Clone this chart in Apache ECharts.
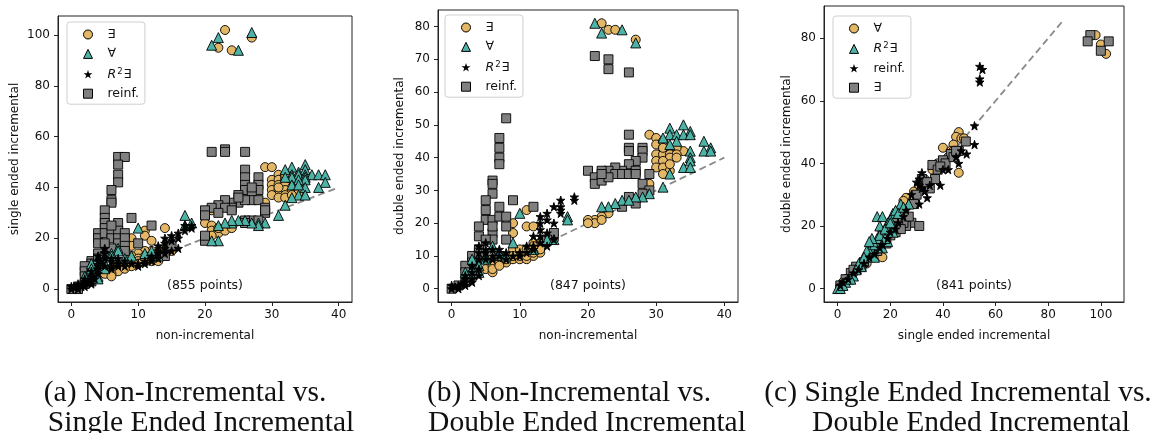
<!DOCTYPE html>
<html><head><meta charset="utf-8">
<script src="https://cdn.jsdelivr.net/npm/echarts@6/dist/echarts.min.js"></script>
<style>html,body{margin:0;padding:0;background:#fff}#c{width:1152px;height:433px}</style>
</head><body><div id="c"></div>
<script>
// ---------------- DATA ----------------
// Panel (a): non-incremental (x) vs single ended incremental (y)
const aExists = [[23,102],[22,95],[24,94],[27,99],
 [29,48],[30,48],[31,45],[30,43],[31,43],[32,43],[33,42],[34,42],[32,44],[30,41],[31,41],[32,41],[33,40],[34,40],[30,39],[31,39],[32,39],[33,38],[31,37],[32,37],[34,38],[30,37],[31,36],[32,36],[33,37],[29,34],[32,45],[31,40],
 [21,31],[20,28],[20,26],[21,25],[21,23],[22,22],[23,23],[21,21],[22,24],[24,24],
 [14,24],[11,23],[11,21],[9,20],[12,19],[9,17],[14,16],[15,15],[13,15],[12,15],[11,15],[10,14],[11,13],[9,13],[10,12],[11,12],[12,12],[13,13],[10,11],[11,11],[12,11],[9,10],[8,10],[8,9],[9,9],[7,9],[7,8],[6,7],[7,7],[6,6],[5,6],[6,5],[8,8],[13,11],[14,14],[10,10]];
const aForall = [[21,96],[22,99],[25,94],[27,101],
 [33,48],[35,49],[34,46],[35,47],[32,47],[33,45],[34,45],[35,45],[36,45],[37,45],[38,45],[33,44],[35,44],[32,44],[35,43],[34,43],[38,42],[37,40],[35,40],[33,41],[34,41],[34,37],[35,37],[33,36],[32,33],[31,29],
 [29,26],[28,26],[28,25],[27,26],[26,27],[25,27],[24,26],[24,27],[23,26],[22,25],[22,19],[21,19],[17,29],[17,25],[18,26],
 [10,24],[9,13],[7,16],[7,15],[6,14],[5,10],[4,5],[4,4],[3,10],[3,8],[2,5],[6,13],[8,12],[11,14],[12,15],[13,13],[4,12],[5,8]];
const aR2 = [[0,0],[0,1],[0.5,0.5],[1,1],[1,0],[1.5,1],[2,2],[2,1],[2,3],[2.5,2.5],[3,3],[3,2],[3,5],[3.5,4],[4,6],[4,9],[4,11],[4,13],[4.5,10],[5,12],[5,14],[5,16],[5,9],[6,11],[6,12],[6,9],[7,10],[7,12],[8,9],[8,11],[9,10],[10,10],[10,9],[11,11],[11,10],[12,11],[12,12],[12,13],[13,14],[13,15],[13,17],[13,12],[14,14],[14,16],[14,18],[14,20],[15,15],[15,19],[15,21],[16,22],[16,20],[17,23],[17,25],[18,24],[18,25],[16,16],[3,7],[4,8],[2,4],[1,2],[6,8],[7,9]];
const aReinf = [[7,52],[8,52],[7,49],[7,45],[7,42],[6,39],[6,35],[6,34],[5,31],[5,28],[5,26],[5,24],[4,22],[4,20],[4,18],[5,22],[6,22],[6,20],[7,26],[7,23],[7,20],[7,18],[8,22],[8,20],[8,17],[9,28],[12,25],[6,16],[8,15],[15,17],[14,13],[10,18],[3,11],[3,10],[2,9],[2,7],[2,5],[3,6],[4,14],[4,12],[5,13],[1,1],[1,0],[0,0],[2,2],[3,3],[6,25],[5,18],
 [21,54],[23,55],[23,54],[26,54],[26,47],[26,44],[26,41],[26,39],[28,44],[28,41],[28,39],[27,38],[27,35],[25,37],[25,34],[24,34],[23,35],[22,33],[21,32],[20,31],[20,29],[24,32],[23,32],[26,35],[28,35],[29,30],[29,32],[27,27],[26,27],[28,27],[26,26],[20,19],[20,21],[24,31],[22,30],[25,36],[27,40],[29,31]];

// Panel (b): non-incremental (x) vs double ended incremental (y)
const bExists = [[22,81],[23,79],[24,79],[27,76],
 [29,47],[30,46],[30,44],[31,43],[32,42],[33,42],[34,42],[33,43],[31,45],[30,41],[31,41],[32,41],[33,41],[32,40],[30,39],[31,39],[33,40],[30,37],[31,37],[32,36],[31,35],[32,38],[29,32],[31,43],
 [23,23],[22,22],[21,21],[20,21],[21,20],[20,20],[22,21],
 [11,24],[11,19],[12,19],[9,20],[9,17],[9,12],[10,12],[11,12],[5,6],[6,5],[6,7],[7,8],[8,8],[9,9],[10,9],[11,9],[12,10],[13,11],[12,14],[13,14],[14,15],[15,15],[13,12],[14,14],[10,10],[11,10],[12,11],[8,9],[6,6],[7,7],[9,10],[12,13]];
const bForall = [[21,81],[22,78],[25,79],[27,75],
 [32,49],[34,50],[35,48],[32,47],[33,47],[31,46],[34,47],[33,45],[32,44],[35,47],[35,42],[37,45],[38,43],[37,42],[38,42],[35,40],[35,39],[34,37],[35,37],[32,35],[31,31],[29,29],[28,28],[27,28],[25,27],[24,26],[23,25],[22,25],[26,27],
 [17,22],[17,21],[10,23],[9,14],[7,11],[6,13],[5,10],[4,7],[4,5],[3,6],[3,9],[2,5],[14,15],[12,12],[8,10],[5,9],[15,15]];
const bR2 = [[0,0],[0,1],[1,1],[1,0],[0.5,0.5],[1.5,1.5],[2,2],[2,1],[2,3],[3,3],[3,2],[3,5],[4,4],[4,6],[4,9],[4,11],[4,13],[5,11],[5,14],[5,12],[5,9],[6,10],[6,12],[6,9],[7,10],[7,12],[8,9],[8,11],[9,10],[10,10],[10,11],[11,11],[12,12],[12,13],[13,14],[13,16],[13,18],[13,20],[13,22],[14,21],[14,23],[14,17],[15,20],[15,25],[16,23],[16,24],[16,25],[16,27],[18,27],[18,28],[14,13],[15,15],[11,13],[12,16],[3,7],[2,4]];
const bReinf = [[21,71],[23,70],[23,67],[26,66],
 [8,52],[7,46],[7,43],[7,40],[7,38],[6,33],[6,32],[6,29],[5,27],[5,24],[5,21],[6,21],[4,19],[4,16],[6,17],[6,19],[7,25],[7,22],[8,19],[8,15],[9,27],[12,25],[6,15],[5,15],[4,12],[3,10],[3,8],[2,7],[2,5],[1,1],[0,0],[2,2],[3,4],[7,10],[15,17],[14,15],[8,22],[4,11],
 [26,47],[26,43],[26,42],[28,43],[28,42],[28,40],[27,39],[26,38],[25,36],[24,37],[23,36],[22,36],[20,36],[21,34],[21,32],[22,33],[24,35],[25,35],[26,35],[27,36],[29,35],[28,32],[26,28],[27,26],[25,25],[29,30],[28,29],[23,34],[22,35],[27,35]];

// Panel (c): single ended incremental (x) vs double ended incremental (y)
const cCircle = [[98,81],[100,78],[102,75],
 [46,50],[45,48.5],[44,46],[40,45],[46,37],[47,48],[43,44],[33,35],[29,31],[26,29],[27,27],[25,28],[28,27],[24,25],[22,24],[21,22],[19,19],[18,17],[17,16],[16,15],[15,13],[14,12],[13,11],[12,10],[11,8],[17,10],[10,9],[8,7],[6,5],[5,4],[3,3],[2,2],[1,1],[36,38],[38,40],[42,42],[44,44],[48,48],[31,33],[23,24],[20,21]];
const cTriangle = [[15,23],[17,23],[21,24],[24,27],[27,27],[16,20],[19,21],[21,18],[19,15],[15,16],[13,13],[11,11],[10,9],[8,8],[6,4],[4,3],[3,2],[1,1],[0,0],[1,0],[2,1],[5,3],[7,6],[9,7],[12,12],[14,14],[16,17],[18,19],[20,22],[22,25],[23,24],[14,10],[17,13],[18,16],[13,16],[11,12],[10,10],[12,15],[20,21],[25,26]];
const cStar = [[54,71],[55,70],[54,67],[54,66],[52,52],[52,46],[49,43],[46,40],[42,38],[39,33],[34,29],[31,27],[32,37],[31,35],[31,33],[30,34],[32,32],[28,30],[26,25],[25,23],[23,21],[22,19],[20,18],[19,16],[17,14],[16,13],[14,11],[12,10],[10,8],[8,6],[6,5],[4,3],[2,2],[1,1],[45,42],[47,44],[40,38],[35,33],[33,31]];
const cSquare = [[96,81],[95,79],[100,76],[103,79],
 [48.7,47],[46,44],[43,43],[40,41],[36,39.5],[37,35],[35,32],[32,35],[28,21],[31,20],[26,20],[25,21],[23,22],[22,18],[18.5,14.4],[15,12],[12,10],[10,8.5],[7,7],[5,5],[3,3],[1,1],[38,38],[41,40],[44,42],[39,39],[30,30],[24,24],[20,20],[17,17],[14,14],[16,13],[20,17],[13,11],[9,7],[6,6],[27,23],[24,19],[45,44],[34,34],[29,27],[21,21]];

// diagonal reference lines
const aDiag = [[0,0],[40,40]];
const bDiag = [[0,0],[40,40]];
const cDiag = [[0,0],[86,86]];

// tick labels
const aXTicks = [0,10,20,30,40], aYTicks = [0,20,40,60,80,100];
const bXTicks = [0,10,20,30,40], bYTicks = [0,10,20,30,40,50,60,70,80];
const cXTicks = [0,20,40,60,80,100], cYTicks = [0,20,40,60,80];

// texts
const pointCounts = ['(855 points)','(847 points)','(841 points)'];
const xNames = ['non-incremental','non-incremental','single ended incremental'];
const yNames = ['single ended incremental','double ended incremental','double ended incremental'];
const captions = [['(a) Non-Incremental vs.','Single Ended Incremental'],
                  ['(b) Non-Incremental vs.','Double Ended Incremental'],
                  ['(c) Single Ended Incremental vs.','Double Ended Incremental']];
// legend labels per panel (circle, triangle, star, square)
const legendLabelsAB = ['∃','∀','R2∃','reinf.'];
const legendLabelsC = ['∀','R2∃','reinf.','∃'];

// ---------------- CHART ----------------
const FONT = 'DejaVu Sans';
const STAR = 'path://M50,0 L61.8,35.5 L99,35.5 L69,57.5 L80.5,93 L50,71 L19.5,93 L31,57.5 L1,35.5 L38.2,35.5 Z';
const STYLE = {
  circle:  {symbol:'circle',   symbolSize:9,  color:'#E3B766'},
  tri:     {symbol:'triangle', symbolSize:10, color:'#4DB3A7'},
  star:    {symbol:STAR,       symbolSize:8.5, color:'#000000'},
  square:  {symbol:'rect',     symbolSize:9,  color:'#808080'}
};

const panels = [
  {grid:{left:58,top:16,width:294,height:286}, x:[-2,42], y:[-5.1,107.5], xt:aXTicks, yt:aYTicks,
   sets:[['circle',aExists],['tri',aForall],['star',aR2],['square',aReinf]], labels:legendLabelsAB, diag:aDiag,
   legend:{left:67,top:22}, yGap:37},
  {grid:{left:438,top:10,width:300,height:292}, x:[-2,42], y:[-4.05,85.05], xt:bXTicks, yt:bYTicks,
   sets:[['circle',bExists],['tri',bForall],['star',bR2],['square',bReinf]], labels:legendLabelsAB, diag:bDiag,
   legend:{left:445,top:15}, yGap:32},
  {grid:{left:824,top:6,width:300,height:296}, x:[-5.2,108.8], y:[-4.3,90.3], xt:cXTicks, yt:cYTicks,
   sets:[['circle',cCircle],['tri',cTriangle],['star',cStar],['square',cSquare]], labels:legendLabelsC, diag:cDiag,
   legend:{left:833,top:16}, yGap:31}
];

const grids=[], xAxes=[], yAxes=[], series=[], legends=[], graphics=[];
const labelMap = {};
const drawOrder = ['circle','square','tri','star'];

function fmtLabel(t){
  if (t === 'R2∃') return '{g|}{it|R}{sup|2}{n|∃}';
  return '{g|}{n|' + t + '}';
}

panels.forEach((p,i)=>{
  grids.push(Object.assign({show:true, borderColor:'#222', borderWidth:1, backgroundColor:'transparent'}, p.grid));
  const axisCommon = (ticks)=>({
    type:'value', gridIndex:i, splitLine:{show:false},
    axisLine:{show:true, onZero:false, lineStyle:{color:'#222', width:1}},
    axisTick:{show:true, length:4, customValues:ticks, lineStyle:{color:'#222'}},
    axisLabel:{customValues:ticks, fontFamily:FONT, fontSize:12, color:'#111'},
    nameLocation:'middle', nameTextStyle:{fontFamily:FONT, fontSize:12, color:'#111'}
  });
  const xa = axisCommon(p.xt); xa.min=p.x[0]; xa.max=p.x[1]; xa.name=xNames[i]; xa.nameGap=28; xa.axisLabel.margin=7;
  const ya = axisCommon(p.yt); ya.min=p.y[0]; ya.max=p.y[1]; ya.name=yNames[i]; ya.nameGap=p.yGap; ya.axisLabel.margin=8;
  xAxes.push(xa); yAxes.push(ya);

  series.push({type:'line', xAxisIndex:i, yAxisIndex:i, data:p.diag, symbol:'none', silent:true, z:1,
    lineStyle:{color:'#8a8a8a', width:1.8, type:[7,4]}, animation:false});

  const names = [];
  p.sets.forEach(([kind,data],k)=>{
    const nm = 'p'+i+'_'+k;
    labelMap[nm] = p.labels[k];
    names.push(kind==='star' ? {name:nm, icon:STAR, itemStyle:{borderWidth:0}}
                             : {name:nm, itemStyle:{borderColor:'#000', borderWidth:1}});
  });
  drawOrder.forEach(kind=>{
    const k = p.sets.findIndex(s=>s[0]===kind);
    const st = STYLE[kind];
    series.push({type:'scatter', name:'p'+i+'_'+k, xAxisIndex:i, yAxisIndex:i, data:p.sets[k][1],
      symbol:st.symbol, symbolSize:st.symbolSize, z:2,
      itemStyle:{color:st.color, borderColor:'#000', borderWidth:0.9, opacity:1},
      emphasis:{disabled:true}, animation:false});
  });
  legends.push({
    data:names, orient:'vertical', left:p.legend.left, top:p.legend.top,
    padding:[6,6,4,16], itemGap:6.4, itemWidth:9, itemHeight:9,
    backgroundColor:'#fff', borderColor:'#cfcfcf', borderWidth:1, borderRadius:3,
    selectedMode:false,
    formatter:(n)=>fmtLabel(labelMap[n]),
    textStyle:{fontFamily:FONT, fontSize:12.5, color:'#111',
      rich:{ g:{width:10}, n:{fontSize:12.5, lineHeight:13, fontFamily:FONT},
             it:{fontStyle:'italic', fontSize:12.5, lineHeight:13, fontFamily:FONT},
             sup:{fontSize:8.5, padding:[0,1,6,1], fontFamily:FONT} }}
  });
  graphics.push({type:'text', x:p.grid.left+p.grid.width/2, y:p.grid.top+p.grid.height-16, silent:true,
    style:{text:pointCounts[i], font:'12.5px "DejaVu Sans"', fill:'#111', align:'center', verticalAlign:'middle'}});
});

const capCenters = [[185,201],[569,587],[958,971]];
captions.forEach((c,i)=>{
  graphics.push({type:'text', x:capCenters[i][0], y:393, silent:true,
    style:{text:c[0], font:'29.5px "Liberation Serif"', fill:'#111', align:'center', verticalAlign:'middle'}});
  graphics.push({type:'text', x:capCenters[i][1], y:423, silent:true,
    style:{text:c[1], font:'29.5px "Liberation Serif"', fill:'#111', align:'center', verticalAlign:'middle'}});
});

const chart = echarts.init(document.getElementById('c'), null, {renderer:'canvas'});
chart.setOption({
  animation:false, backgroundColor:'#fff',
  grid:grids, xAxis:xAxes, yAxis:yAxes, series:series, legend:legends, graphic:graphics
});
</script></body></html>
